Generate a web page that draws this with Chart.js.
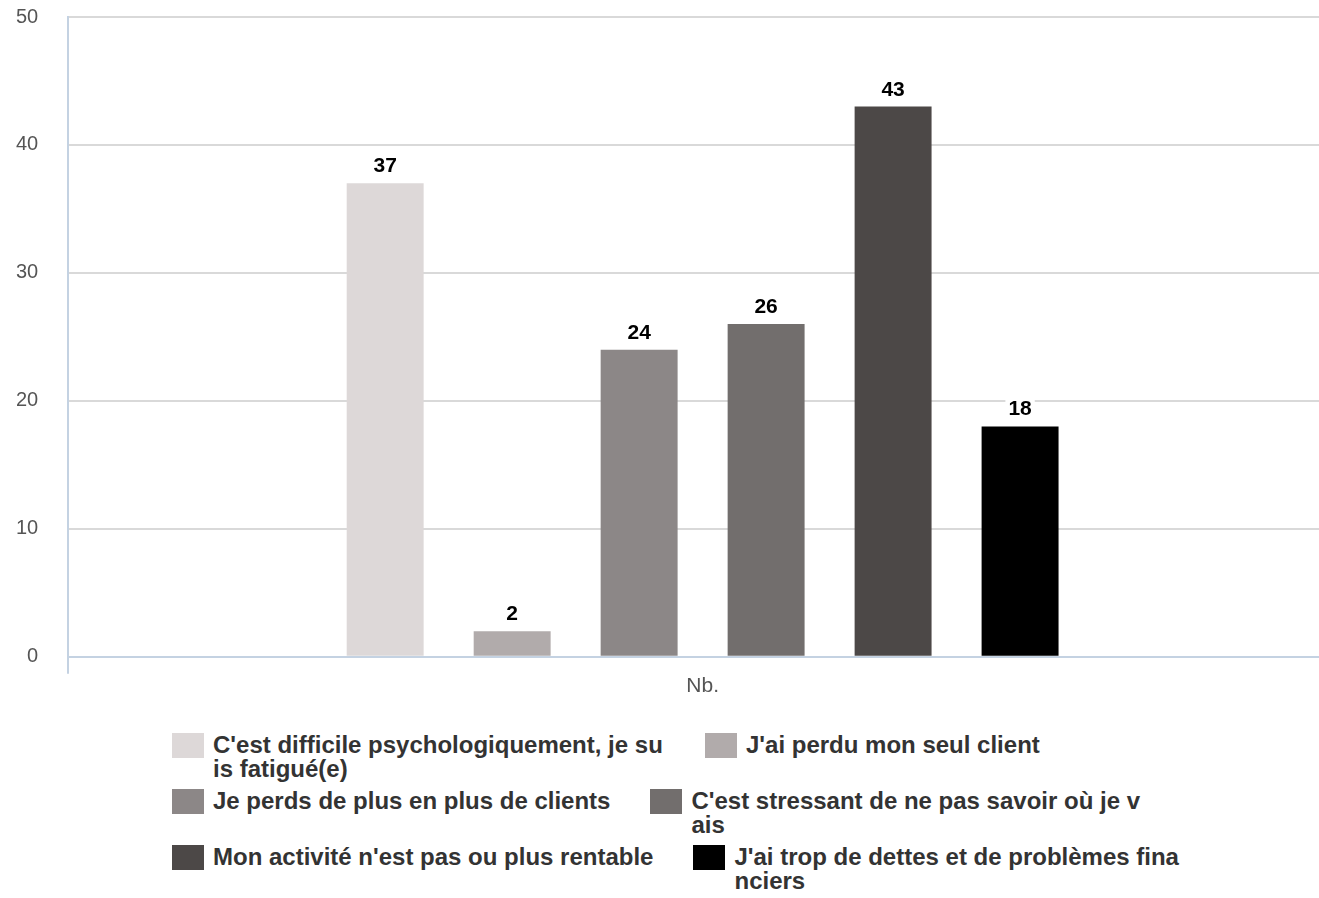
<!DOCTYPE html>
<html>
<head>
<meta charset="utf-8">
<script src="https://cdn.jsdelivr.net/npm/chart.js@4/dist/chart.umd.min.js"></script>
<style>
  html, body { margin: 0; padding: 0; background: #fff; overflow: hidden; }
  #wrap { position: relative; width: 1319px; height: 898px; overflow: hidden; }
  #chartBox { position: absolute; left: -29px; top: -25px; width: 1366px; height: 724px; }
  #legend {
    position: absolute; left: 172px; top: 733px; width: 1120px;
    display: flex; flex-wrap: wrap; align-items: flex-start;
    font-family: "Liberation Sans", Arial, sans-serif; font-weight: bold;
    font-size: 24px; line-height: 24px; color: #333;
  }
  .item { display: flex; align-items: flex-start; margin-right: 40px; margin-bottom: 8px; }
  .sw { width: 32px; height: 25px; flex: none; margin-right: 9px; }
  .txt { max-width: 452px; word-break: break-all; }
</style>
</head>
<body>
<div id="wrap">
  <div id="chartBox"><canvas id="c"></canvas></div>
  <div id="legend"></div>
</div>
<script>
const categories = ["Nb."];
const seriesLabels = [
  "C'est difficile psychologiquement, je suis fatigué(e)",
  "J'ai perdu mon seul client",
  "Je perds de plus en plus de clients",
  "C'est stressant de ne pas savoir où je vais",
  "Mon activité n'est pas ou plus rentable",
  "J'ai trop de dettes et de problèmes financiers"
];
const seriesValues = [37, 2, 24, 26, 43, 18];
const seriesColors = ["#ddd8d8", "#b1abab", "#8c8787", "#726e6d", "#4c4847", "#000000"];
const yTicks = [0, 10, 20, 30, 40, 50];

const datasets = seriesLabels.map((lab, i) => ({
  label: lab,
  data: [seriesValues[i]],
  backgroundColor: seriesColors[i],
  borderWidth: 0,
  barPercentage: 0.606,
  categoryPercentage: 0.6005
}));

const valueLabels = {
  id: 'valueLabels',
  afterDatasetsDraw(chart) {
    const ctx = chart.ctx;
    ctx.save();
    ctx.font = 'bold 21px "Liberation Sans", Arial, sans-serif';
    ctx.textAlign = 'center';
    ctx.textBaseline = 'alphabetic';
    chart.data.datasets.forEach((ds, i) => {
      const meta = chart.getDatasetMeta(i);
      meta.data.forEach((bar, j) => {
        const txt = String(ds.data[j]);
        const w = ctx.measureText(txt).width;
        const y = bar.y - 11;
        ctx.fillStyle = '#ffffff';
        ctx.fillRect(bar.x - w / 2 - 3, y - 19, w + 6, 23);
        ctx.fillStyle = '#000000';
        ctx.fillText(txt, bar.x, y);
      });
    });
    ctx.restore();
  }
};

new Chart(document.getElementById('c'), {
  type: 'bar',
  data: { labels: categories, datasets },
  options: {
    responsive: true,
    maintainAspectRatio: false,
    animation: false,
    layout: { padding: { left: 15, top: 17, right: 0, bottom: 0 } },
    plugins: { legend: { display: false }, tooltip: { enabled: false } },
    scales: {
      x: {
        grid: { drawOnChartArea: false, drawTicks: true, tickLength: 17, color: '#c4d2e2', lineWidth: 2 },
        border: { display: true, color: '#c4d2e2', width: 2 },
        ticks: { color: '#555', font: { family: '"Liberation Sans", Arial, sans-serif', size: 21 }, padding: 0 }
      },
      y: {
        min: 0, max: 50,
        afterBuildTicks(scale) { scale.ticks = yTicks.map(v => ({ value: v })); },
        grid: { color: (c) => c.tick && c.tick.value === 0 ? '#c4d2e2' : '#d9d9d9', lineWidth: 2, drawTicks: false },
        border: { display: true, color: '#c4d2e2', width: 2 },
        ticks: { color: '#555', font: { family: '"Liberation Sans", Arial, sans-serif', size: 20 }, padding: 30 }
      }
    }
  },
  plugins: [valueLabels]
});

const leg = document.getElementById('legend');
seriesLabels.forEach((lab, i) => {
  const it = document.createElement('div');
  it.className = 'item';
  const sw = document.createElement('div');
  sw.className = 'sw';
  sw.style.background = seriesColors[i];
  const t = document.createElement('div');
  t.className = 'txt';
  t.textContent = lab;
  it.appendChild(sw); it.appendChild(t);
  leg.appendChild(it);
});
</script>
</body>
</html>
